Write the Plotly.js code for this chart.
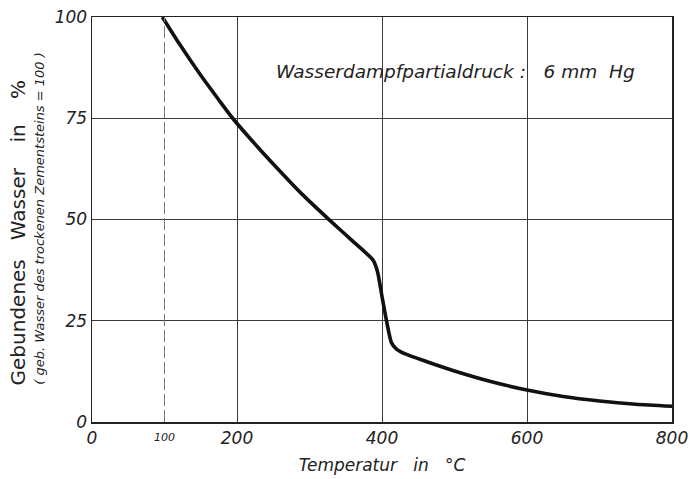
<!DOCTYPE html>
<html>
<head>
<meta charset="utf-8">
<script src="https://cdn.plot.ly/plotly-3.0.1.min.js"></script>
<style>html,body{margin:0;padding:0;background:#fff;}#chart{width:691px;height:479px;}</style>
</head>
<body>
<div id="chart"></div>
<script>
// Temperature (°C) and bound water (%)
const temperature = [97, 120, 150, 175, 194, 230, 260, 290, 328, 360, 388, 394, 400, 406, 413, 420, 432, 460, 500, 550, 600, 650, 700, 750, 800];
const boundWater  = [100, 93.5, 85.6, 79.5, 75, 67.6, 61.8, 56.2, 49.8, 44.6, 39.9, 37.0, 31.0, 25.2, 19.6, 18.0, 16.8, 15.0, 12.6, 10.0, 7.9, 6.3, 5.2, 4.4, 3.9];
const xTicks = [0, 200, 400, 600, 800];
const yTicks = [0, 25, 50, 75, 100];
const FONT = "DejaVu Sans";

const trace = {
  x: temperature, y: boundWater, type: 'scatter', mode: 'lines',
  line: {color: '#111', width: 3.6, shape: 'spline', smoothing: 0.6},
  hoverinfo: 'skip'
};

const layout = {
  width: 691, height: 479,
  margin: {l: 92, r: 19, t: 17, b: 57},
  paper_bgcolor: '#fff', plot_bgcolor: '#fff',
  showlegend: false,
  font: {family: FONT, color: '#222'},
  xaxis: {
    range: [0, 800], tickvals: xTicks, ticktext: xTicks.map(String),
    showgrid: true, gridcolor: '#3a3a3a', gridwidth: 1,
    showline: true, linecolor: '#222', linewidth: 1.5, mirror: true,
    zeroline: false, ticks: '',
    tickfont: {family: FONT, size: 17, style: 'italic', color: '#222'},
    title: {text: 'Temperatur   in   °C', font: {family: FONT, size: 17, style: 'italic', color: '#222'}, standoff: 12}
  },
  yaxis: {
    range: [0, 100], tickvals: yTicks, ticktext: yTicks.map(String),
    showgrid: true, gridcolor: '#3a3a3a', gridwidth: 1,
    showline: true, linecolor: '#222', linewidth: 1.5, mirror: true,
    zeroline: false, ticks: '',
    tickfont: {family: FONT, size: 17, style: 'italic', color: '#222'}
  },
  shapes: [
    {type: 'line', xref: 'x', yref: 'y', x0: 100, x1: 100, y0: 0, y1: 100,
     line: {color: '#777', width: 1, dash: '12px,4px'}}
  ],
  annotations: [
    {text: '100', xref: 'x', yref: 'paper', x: 100, y: 0, yshift: -7, yanchor: 'top',
     showarrow: false, font: {family: FONT, size: 11, style: 'italic', color: '#222'}},
    {text: 'Wasserdampfpartialdruck :   6 mm  Hg', xref: 'paper', yref: 'paper',
     x: 0.626, y: 0.865, xanchor: 'center', yanchor: 'middle', showarrow: false,
     font: {family: FONT, size: 18.5, style: 'italic', color: '#222'}},
    {text: 'Gebundenes   Wasser    in    %', xref: 'paper', yref: 'paper', textangle: -90,
     x: 0, xshift: -74, y: 0.468, xanchor: 'center', yanchor: 'middle', showarrow: false,
     font: {family: FONT, size: 20, color: '#222'}},
    {text: '( geb. Wasser des trockenen Zementsteins = 100 )', xref: 'paper', yref: 'paper', textangle: -90,
     x: 0, xshift: -52, y: 0.502, xanchor: 'center', yanchor: 'middle', showarrow: false,
     font: {family: FONT, size: 13, style: 'italic', color: '#222'}}
  ]
};

Plotly.newPlot('chart', [trace], layout, {displayModeBar: false, staticPlot: true});
</script>
</body>
</html>
